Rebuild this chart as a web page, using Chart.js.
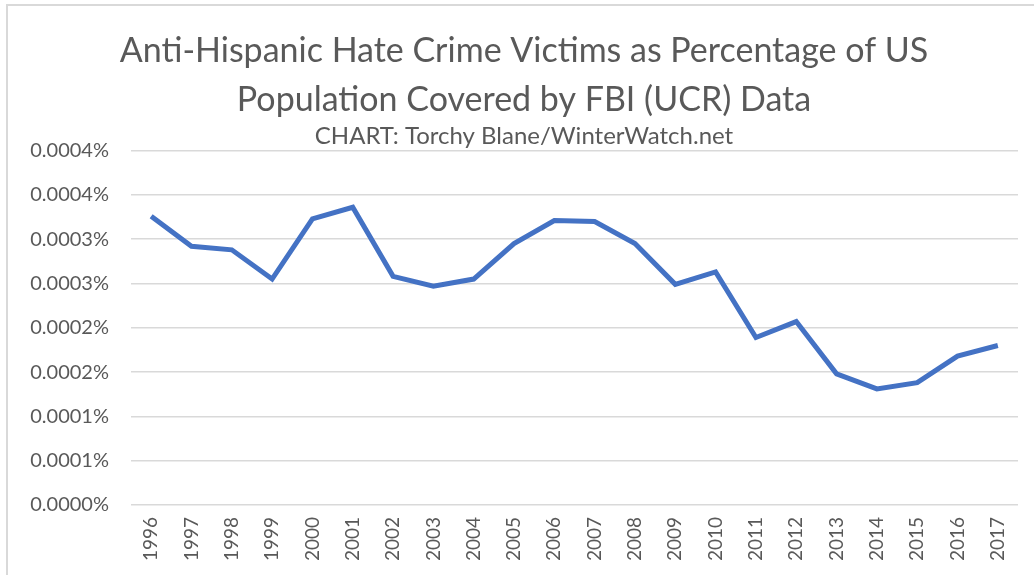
<!DOCTYPE html>
<html>
<head>
<meta charset="utf-8">
<script src="https://cdn.jsdelivr.net/npm/chart.js@4"></script>
<style>
    html, body { margin: 0; padding: 0; background: #fff; }
    #wrap { width: 1034px; height: 575px; }
</style>
</head>
<body>
<div id="wrap"><canvas id="chart" width="1034" height="575"></canvas></div>
<script>
const years = ['1996', '1997', '1998', '1999', '2000', '2001', '2002', '2003', '2004', '2005', '2006',
    '2007', '2008', '2009', '2010', '2011', '2012', '2013', '2014', '2015', '2016', '2017'];
// victims as % of covered population
const victimPct = [0.000326, 0.000292, 0.000288, 0.000255, 0.000323, 0.000336, 0.000258, 0.000247,
    0.000255, 0.000295, 0.000321, 0.000320, 0.000295, 0.000249, 0.000263, 0.000189, 0.000207,
    0.000148, 0.000131, 0.000138, 0.000168, 0.000180];
const yTickLabels = ['0.0000%', '0.0001%', '0.0001%', '0.0002%', '0.0002%', '0.0003%', '0.0003%', '0.0004%', '0.0004%'];

const textColor = '#595959';
const fontFamily = 'Lato, "Open Sans", sans-serif';

// light frame like the exported excel chart
const framePlugin = {
    id: 'frame',
    beforeDraw(chart) {
        const ctx = chart.ctx;
        ctx.save();
        ctx.strokeStyle = '#d9d9d9';
        ctx.lineWidth = 2;
        ctx.strokeRect(7, 5, 1200, 1200);
        ctx.restore();
    }
};

const ctx = document.getElementById('chart').getContext('2d');
new Chart(ctx, {
    type: 'line',
    data: {
        labels: years,
        datasets: [{
            data: victimPct,
            borderColor: '#4472C4',
            borderWidth: 5,
            pointRadius: 0,
            tension: 0,
            fill: false
        }]
    },
    options: {
        responsive: false,
        animation: false,
        layout: { padding: { left: 30, right: 16, top: 26, bottom: 2 } },
        plugins: {
            legend: { display: false },
            tooltip: { enabled: false },
            title: {
                display: true,
                text: ['Anti-Hispanic Hate Crime Victims as Percentage of US', 'Population Covered by FBI (UCR) Data'],
                color: textColor,
                font: { family: fontFamily, size: 34, weight: 'normal', lineHeight: 1.45 },
                padding: { top: 0, bottom: 0 }
            },
            subtitle: {
                display: true,
                text: 'CHART: Torchy Blane/WinterWatch.net',
                color: textColor,
                font: { family: fontFamily, size: 24, weight: 'normal', lineHeight: 1.0 },
                padding: { top: 0, bottom: 2 }
            }
        },
        scales: {
            x: {
                offset: true,
                grid: { display: false, drawTicks: false },
                border: { display: false },
                ticks: {
                    color: textColor,
                    font: { family: fontFamily, size: 19 },
                    minRotation: 90,
                    maxRotation: 90,
                    autoSkip: false,
                    padding: 12
                }
            },
            y: {
                min: 0,
                max: 0.0004,
                afterFit(scale) { scale.width = 101; },
                grid: { color: '#d9d9d9', lineWidth: 1.5, drawTicks: false },
                border: { display: false },
                ticks: {
                    stepSize: 0.00005,
                    color: textColor,
                    font: { family: fontFamily, size: 20 },
                    padding: 22,
                    callback: (value, index) => yTickLabels[index]
                }
            }
        }
    },
    plugins: [framePlugin]
});
</script>
</body>
</html>
